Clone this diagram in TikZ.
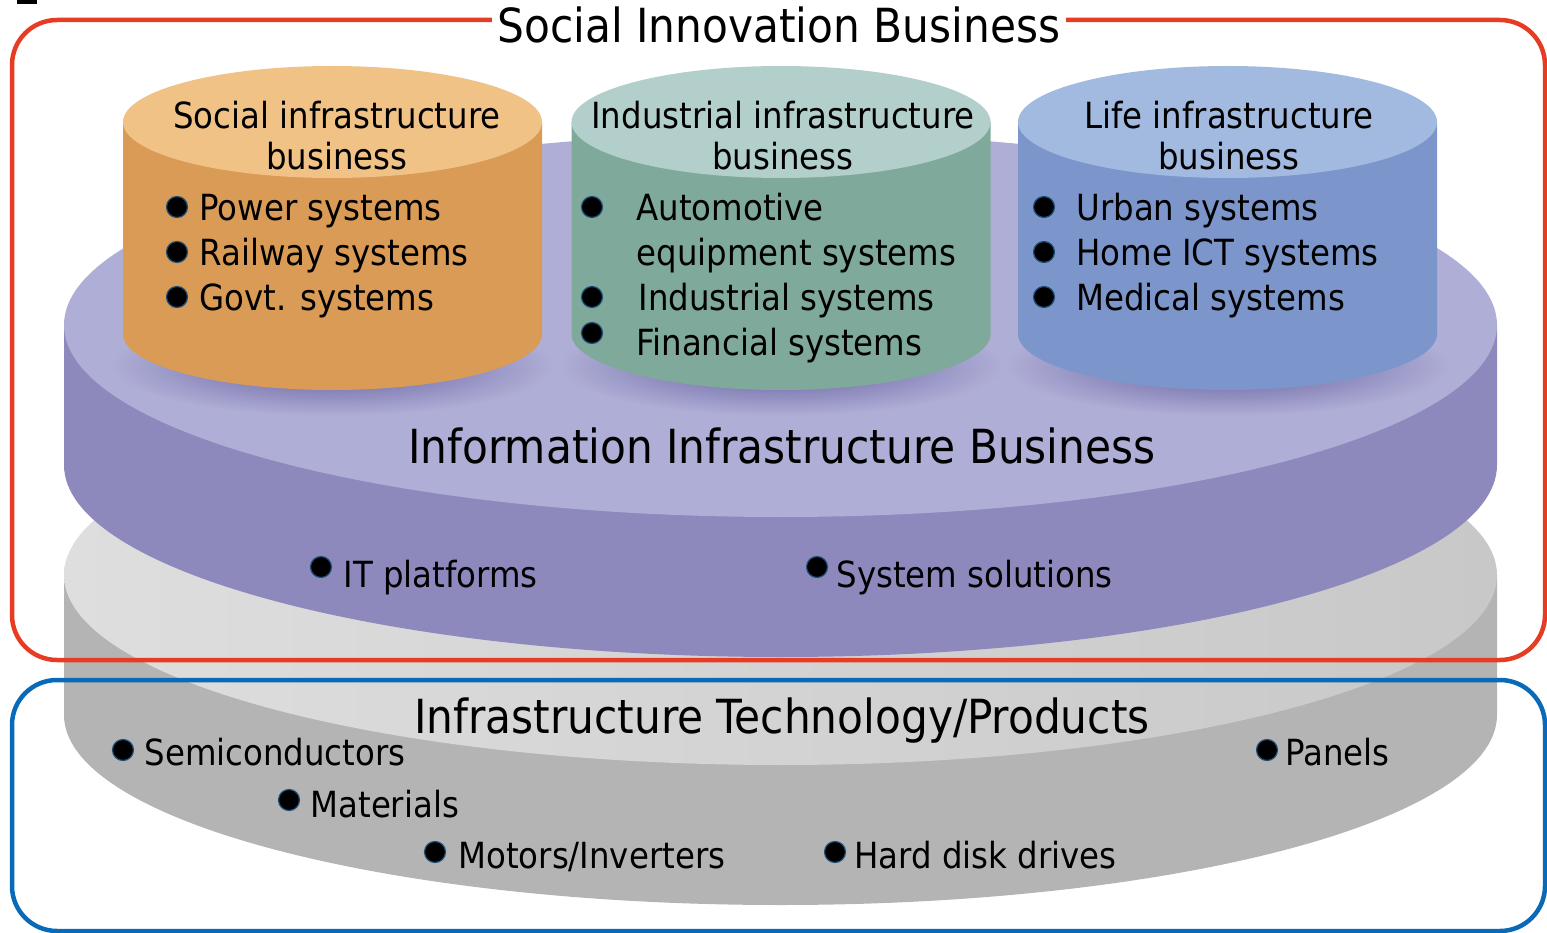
\documentclass[tikz,border=0pt]{standalone}
\usepackage{fontspec}
\setmainfont{DejaVu Sans Condensed}

\definecolor{frameRed}{HTML}{E63C23}
\definecolor{frameBlue}{HTML}{0A6AB8}
\definecolor{orTop}{HTML}{F0C285}
\definecolor{orSide}{HTML}{D99B55}
\definecolor{grTop}{HTML}{B2CFCC}
\definecolor{grSide}{HTML}{7FA99A}
\definecolor{blTop}{HTML}{A2BAE0}
\definecolor{blSide}{HTML}{7C96CC}
\definecolor{puTop}{HTML}{AFAED6}
\definecolor{puSide}{HTML}{8D89BC}
\definecolor{puShadow}{HTML}{625C9C}
\definecolor{gyLight}{HTML}{DDDEDD}
\definecolor{gyMid}{HTML}{C8C8C8}
\definecolor{gySide}{HTML}{B4B4B4}
\definecolor{dotRim}{HTML}{1F4E79}

\tikzset{
  frame/.style={line width=4.5pt, rounded corners=45pt},
  head/.style={font=\fontsize{36}{41}\selectfont, align=center},
  item/.style={anchor=base west, font=\fontsize{36}{41}\selectfont},
  bigtext/.style={anchor=base, font=\fontsize{47}{50}\selectfont},
  dot/.style={circle, fill=black, draw=dotRim, line width=1.2pt, inner sep=0pt, minimum size=21pt}
}

\begin{document}
\begin{tikzpicture}[x=1pt, y=-1pt]
\useasboundingbox (0,0) rectangle (1547,933);
\fill[black] (17,0) rectangle (37,4);

% lower disk
\fill[gySide] (64,575) -- (64,715) arc (180:0:716.5 and 190) -- (1497,575) -- cycle;
\shade[left color=gyLight, right color=gyMid] (780.5,575) ellipse [x radius=716.5, y radius=190];

% upper disk
\fill[puSide] (64,325) -- (64,465) arc (180:0:716.5 and 192) -- (1497,325) -- cycle;
\fill[puTop] (780.5,325) ellipse [x radius=716.5, y radius=192];

% shadows, then the three cylinders
\foreach \cx in {332.5, 781, 1227.5}
  \shade[inner color=puShadow, outer color=puTop] (\cx,366) ellipse [x radius=222, y radius=50];
\foreach \cx/\sd/\tp in {332.5/orSide/orTop, 781/grSide/grTop, 1227.5/blSide/blTop} {
  \fill[\sd] (\cx-209.5,122) -- (\cx-209.5,334) arc (180:0:209.5 and 56) -- (\cx+209.5,122) -- cycle;
  \fill[\tp] (\cx,122) ellipse [x radius=209.5, y radius=56];
}

\draw[frame, frameRed] (12,20) rectangle (1545,660);
\draw[frame, frameBlue] (12,680) rectangle (1545,931);
\node[fill=white, anchor=base, inner xsep=6pt, font=\fontsize{47}{50}\selectfont] (sib) at (779,43) {Social Innovation Business};

% social infrastructure
\node[head] (socHead) at (337,136) {Social infrastructure\\business};
\node[dot] (socD1) at (177,207) {};
\node[dot] (socD2) at (177,252) {};
\node[dot] (socD3) at (177,297) {};
\node[item] (socT1) at (196,221) {Power systems};
\node[item] (socT2) at (196,266) {Railway systems};
\node[item] (socT3) at (196,311) {Govt. systems};

% industrial infrastructure
\node[head] (indHead) at (783,136) {Industrial infrastructure\\business};
\node[dot] (indD1) at (592,207) {};
\node[dot] (indD2) at (592,297) {};
\node[dot] (indD3) at (592,333) {};
\node[item] (indT1) at (633,221) {Automotive};
\node[item] (indT2) at (633,266) {equipment systems};
\node[item] (indT3) at (635,311) {Industrial systems};
\node[item] (indT4) at (633,355) {Financial systems};

% life infrastructure
\node[head] (lifHead) at (1229,136) {Life infrastructure\\business};
\node[dot] (lifD1) at (1044,207) {};
\node[dot] (lifD2) at (1044,252) {};
\node[dot] (lifD3) at (1044,297) {};
\node[item] (lifT1) at (1073,221) {Urban systems};
\node[item] (lifT2) at (1073,266) {Home ICT systems};
\node[item] (lifT3) at (1073,311) {Medical systems};

% information infrastructure
\node[bigtext] (infHead) at (782,463) {Information Infrastructure Business};
\node[dot] (itD) at (321,567) {};
\node[item] (itT) at (340,587) {IT platforms};
\node[dot] (ssD) at (817,567) {};
\node[item] (ssT) at (833,587) {System solutions};

% technology / products
\node[bigtext] (tecHead) at (782,733) {Infrastructure Technology/Products};
\node[dot] (scD) at (123,750) {};
\node[item] (scT) at (141,765) {Semiconductors};
\node[dot] (maD) at (289,800) {};
\node[item] (maT) at (307,817) {Materials};
\node[dot] (moD) at (435,852) {};
\node[item] (moT) at (455,868) {Motors/Inverters};
\node[dot] (hdD) at (835,852) {};
\node[item] (hdT) at (851,868) {Hard disk drives};
\node[dot] (paD) at (1267,750) {};
\node[item] (paT) at (1282,765) {Panels};

\end{tikzpicture}
\end{document}
